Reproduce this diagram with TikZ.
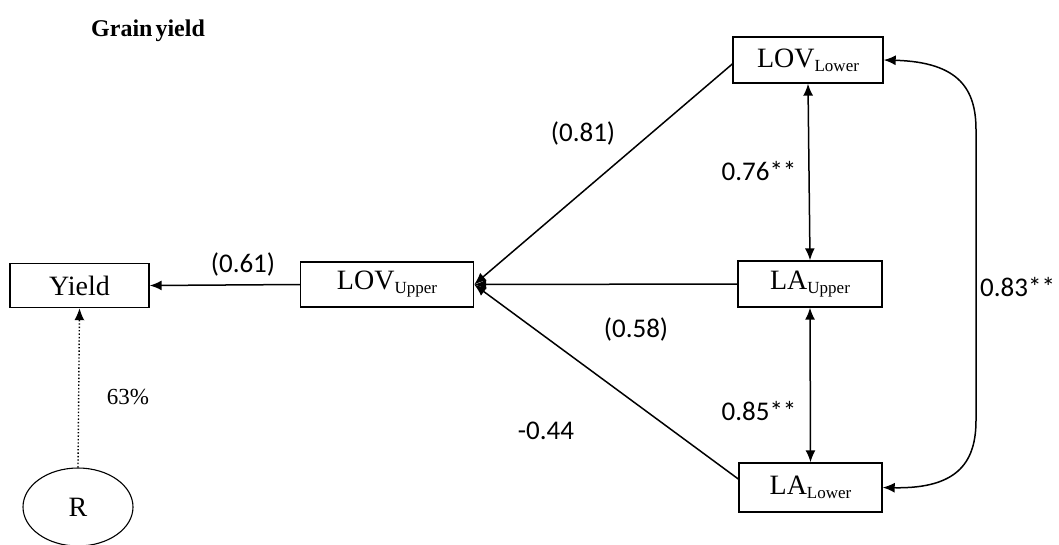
\documentclass[tikz,border=0pt]{standalone}
\usepackage{fontspec}
\setmainfont{Liberation Serif}
\newfontfamily\numfont{Carlito}
\usetikzlibrary{arrows.meta,shapes.geometric}
\newcommand{\lsub}[1]{\raisebox{-4pt}{\fontsize{17}{18}\selectfont #1}}
\begin{document}
\begin{tikzpicture}[x=1pt,y=-1pt,
  box/.style={draw,line width=1.4pt,rectangle,inner sep=0pt,font=\fontsize{28}{30}\selectfont},
  arr/.style={line width=1.5pt,-{Latex[length=12pt,width=10pt]}},
  darr/.style={line width=1.5pt,{Latex[length=12pt,width=10pt]}-{Latex[length=12pt,width=10pt]}},
  lab/.style={font=\numfont\fontsize{27}{29}\selectfont,inner sep=0pt}]
\useasboundingbox (0,0) rectangle (1059,544);
\node[anchor=west,font=\bfseries\fontsize{24}{28}\selectfont,inner sep=0pt] (title) at (91,31) {Grain\hspace{-3pt} yield};
\node[box,minimum width=139pt,minimum height=44pt] (yield) at (79.5,285.5) {Yield};
\node[box,minimum width=173pt,minimum height=45pt] (lovu) at (387,284.5) {LOV\lsub{Upper}};
\node[box,minimum width=144pt,minimum height=46pt] (lau) at (810,284) {LA\lsub{Upper}};
\node[box,minimum width=150pt,minimum height=46pt] (lovl) at (808,60) {LOV\lsub{Lower}};
\node[box,minimum width=143pt,minimum height=49pt] (lal) at (810.5,487.5) {LA\lsub{Lower}};
\node[draw,ellipse,line width=1.1pt,minimum width=110pt,minimum height=78pt,inner sep=0pt,font=\fontsize{28}{30}\selectfont] (r) at (78,507) {R};
\draw[arr] (lovu.west) -- (yield.east);
\draw[line width=1.4pt,dotted,-{Latex[length=12pt,width=10pt]}] (r.north) -- (yield.south);
\coordinate (hub) at (lovu.east);
\draw[arr] (lovl.west |- 0,64) -- (hub);
\draw[arr] (lau.west) -- (hub);
\draw[arr] (lal.west |- 0,479) -- (hub);
\draw[darr] (lovl.south) -- (lau.north);
\draw[darr] (lau.south) -- (lal.north);
\draw[darr] (lovl.east) .. controls (960,62) and (976,90) .. (976,130) -- (976,420) .. controls (976,460) and (960,489) .. (lal.east);
\node[lab] (l61) at (243,264) {(0.61)};
\node[lab] (l81) at (583,133) {(0.81)};
\node[lab] (l58) at (636,329) {(0.58)};
\node[lab] (l44) at (546,431) {-0.44};
\node[lab] (l76) at (759,171) {0.76**};
\node[lab] (l85) at (759,411) {0.85**};
\node[lab,anchor=west] (l83) at (980,287) {0.83**};
\node[font=\fontsize{23}{26}\selectfont,inner sep=0pt] (l63) at (128,397) {63\%};
\end{tikzpicture}
\end{document}
